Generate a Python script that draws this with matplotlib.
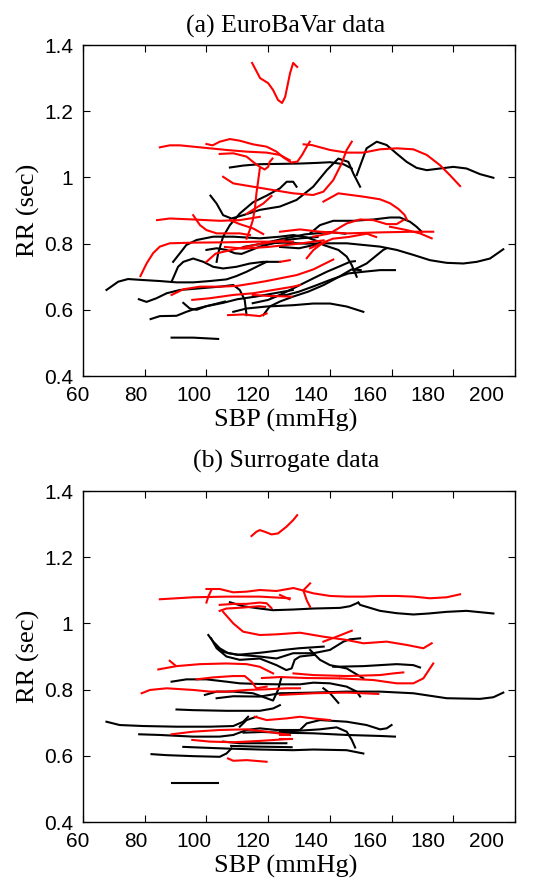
import matplotlib
matplotlib.use('Agg')
import matplotlib.pyplot as plt
import matplotlib.transforms as mtransforms

# SBP (mmHg) / RR (sec) trajectories
euro_red = [
    [(114.8,1.346),(117.4,1.300),(120.0,1.285),(121.6,1.264),(123.2,1.234),(124.5,1.225),(125.5,1.243),(127.1,1.315),(128.1,1.346),(129.4,1.334)],
    [(84.9,1.091),(88.1,1.097),(91.4,1.097),(97.9,1.091),(106.5,1.083),(113,1.078),(119.5,1.075),(123.8,1.068),(127,1.052)],
    [(100,1.101),(102,1.097),(104.3,1.108),(107.6,1.116),(110.8,1.111),(115.1,1.1),(119.5,1.093),(122.7,1.078),(125,1.06),(127.5,1.045),(129.5,1.048),(131,1.068),(132.5,1.093),(133.5,1.108)],
    [(131.5,1.1),(134.1,1.098),(140.05,1.083),(145.45,1.075),(150.85,1.075),(156.25,1.085),(161.65,1.088),(167.05,1.085),(171.4,1.068),(175.7,1.037),(178.9,1.007),(182.2,0.974)],
    [(104.3,1.071),(108.7,1.073),(113,1.063),(115.1,1.047),(117.3,1.032),(118.9,1.024),(120,1.032),(120.5,1.047),(121.4,1.057)],
    [(117.3,1.027),(116.8,0.992),(116.2,0.952),(115.7,0.905),(115,0.87),(114,0.84),(113,0.815)],
    [(105.4,1.002),(108.7,0.982),(115.1,0.972),(121.6,0.962),(128.1,0.952),(134.6,0.947),(137.9,0.957),(141.1,0.992),(143.8,1.042),(145.45,1.083),(147.1,1.108)],
    [(137.9,0.927),(142.75,0.952),(150.85,0.942),(156.25,0.934),(159.5,0.922),(162.2,0.905),(164.2,0.887),(165,0.872)],
    [(113,0.89),(115.7,0.906),(118.4,0.921),(121.1,0.944)],
    [(84.0,0.871),(88.1,0.876),(95.7,0.873),(104.3,0.869),(110.8,0.871),(117.3,0.881)],
    [(95.7,0.886),(97.9,0.856),(100,0.841),(103.3,0.831),(106.5,0.831),(110.8,0.831),(114.1,0.826)],
    [(107.6,0.871),(110.8,0.859),(115.1,0.846),(118.4,0.829)],
    [(78.6,0.702),(80.6,0.74),(82.7,0.771),(84.9,0.791),(88.1,0.801),(95.7,0.803),(106.5,0.804),(117.3,0.806),(128.1,0.806)],
    [(88.7,0.645),(92.5,0.662),(97.9,0.67),(104.3,0.67),(109.7,0.672),(115.1,0.68),(119.5,0.687),(123.8,0.695),(129.25,0.705),(134.6,0.722),(141.1,0.752)],
    [(95.4,0.63),(101.1,0.635),(108.7,0.645),(115.1,0.65),(121.6,0.66),(128.1,0.67),(130.3,0.675)],
    [(107,0.584),(111.9,0.586),(117.3,0.581),(119.5,0.589)],
    [(115,0.645),(120,0.642),(127.6,0.64)],
    [(123.85,0.836),(130.3,0.843),(136.8,0.836),(145.45,0.831),(156.25,0.834),(167.05,0.836),(173.5,0.836)],
    [(134.6,0.821),(140,0.831),(145.45,0.861),(149.8,0.873),(154.1,0.871),(158.4,0.859),(161.65,0.859),(163.8,0.871)],
    [(159.5,0.851),(164.9,0.841),(169.2,0.831),(173,0.816)],
    [(132.5,0.756),(134.6,0.78),(136.8,0.796),(139,0.806)],
    [(100,0.745),(103,0.77),(110,0.785),(118,0.80),(125,0.81)],
    [(133.6,0.786),(137,0.8),(141,0.815),(146,0.82),(152,0.83),(155,0.82)],
    [(123.85,0.745),(127,0.75)],
    [(106,0.79),(112,0.785),(120,0.79),(130,0.8),(138,0.81)],
]

euro_black = [
    [(107.6,1.030),(112,1.036),(117.3,1.04),(124,1.041),(130.3,1.042),(136,1.044),(140.05,1.046),(144.4,1.04),(147.1,1.027)],
    [(101.3,0.945),(103.3,0.921),(105.4,0.886),(108.1,0.876),(111.9,0.886),(117.3,0.902),(123.8,0.912),(129.2,0.932),(134.6,0.972),(139,1.022),(142.75,1.057),(146,1.047),(147.6,1.012),(149.8,0.972)],
    [(148.7,1.007),(151.9,1.088),(155.2,1.108),(158.4,1.098),(161.65,1.072),(164.9,1.047),(168.1,1.029),(171.4,1.022),(175.7,1.027),(180,1.032),(184.3,1.027),(188.65,1.01),(193,0.999)],
    [(103.3,0.745),(103.8,0.771),(105.4,0.821),(107.6,0.856),(110.8,0.891),(115.1,0.925),(119.5,0.945),(123.8,0.967),(126,0.987),(128.1,0.987),(129.2,0.972)],
    [(133.6,0.831),(136.8,0.856),(141.1,0.869),(147.6,0.869),(154.1,0.873),(159.5,0.879),(162.7,0.879),(166,0.866),(168.1,0.851),(169.75,0.836)],
    [(67.6,0.66),(71.4,0.685),(74.6,0.693),(79.5,0.69),(84.9,0.687),(90.3,0.683),(95.7,0.683),(101.1,0.687),(106.5,0.692),(109.7,0.702),(113,0.715),(117.3,0.735),(119.5,0.745)],
    [(88.7,0.685),(90.8,0.73),(92.5,0.745),(95.7,0.755),(99,0.745),(102.2,0.73),(105.4,0.725),(109.7,0.73),(114.1,0.74),(118.4,0.745),(123.8,0.745)],
    [(78.1,0.632),(80.6,0.624),(83.8,0.635),(87.1,0.65),(91.4,0.66),(97.9,0.665),(104.3,0.67),(108.7,0.675),(110.8,0.66),(112.4,0.63),(113,0.584)],
    [(81.9,0.572),(84.9,0.581),(90.3,0.582),(93.5,0.594),(95.7,0.601),(100,0.611),(105.4,0.621),(110,0.632),(116,0.64),(122,0.65),(128,0.66)],
    [(88.7,0.516),(95.7,0.516),(103.8,0.512)],
    [(92.5,0.621),(94.6,0.604),(96.8,0.6),(100,0.611),(106,0.625)],
    [(108.7,0.594),(113,0.604),(119.5,0.61),(128.1,0.614),(134.6,0.619),(140.05,0.619),(145.45,0.61),(150.85,0.594)],
    [(118.4,0.584),(120.5,0.61),(123.8,0.625),(128.1,0.64),(133,0.655),(138,0.675),(143,0.7),(147,0.722),(150,0.72)],
    [(115,0.62),(120,0.63),(123.85,0.645),(127.1,0.66),(130.3,0.675),(134.6,0.695),(139,0.715),(143.3,0.732),(146.5,0.745),(148.1,0.747)],
    [(121,0.64),(126,0.645),(130,0.655),(135,0.672),(140,0.69),(146,0.71),(150.85,0.715),(156.25,0.72),(161.1,0.72)],
    [(137.9,0.796),(142.75,0.781),(145.45,0.761),(147.1,0.735),(148.7,0.70)],
    [(147.6,0.72),(151.9,0.74),(155.2,0.765),(157.3,0.781),(158.4,0.786)],
    [(118,0.80),(125,0.803),(132,0.80),(140.05,0.801),(145.45,0.801),(150.85,0.796),(156.25,0.791),(161.65,0.781),(167.05,0.766),(172.45,0.75),(177.85,0.742),(183.25,0.740),(187.6,0.745),(191.9,0.755),(196.2,0.783)],
    [(89.2,0.745),(91.4,0.771),(93.5,0.796),(96.8,0.811),(102.2,0.821),(108.7,0.821),(117.3,0.816),(123.85,0.821),(128.2,0.826),(132.5,0.819),(137.9,0.801)],
    [(100,0.781),(103.3,0.786),(106.5,0.781),(109.2,0.771),(111.4,0.769),(114.1,0.779),(117.3,0.791),(121.6,0.801),(125.9,0.811),(130.3,0.816),(136,0.82)],
    [(123.85,0.79),(130,0.786),(136.8,0.8)],
    [(112,0.79),(118,0.8),(125,0.815),(132,0.828),(140,0.835),(145,0.83)],
]

surr_red = [
    [(114.6,1.264),(116.2,1.277),(117.3,1.282),(118.9,1.277),(121.1,1.269),(123.2,1.272),(125.9,1.292),(128.1,1.312),(129.4,1.327)],
    [(84.9,1.073),(95.7,1.079),(106.5,1.081),(117.3,1.081),(127,1.076)],
    [(100,1.104),(104.3,1.104),(108.7,1.094),(113,1.096),(117.3,1.101),(122.7,1.098),(128.2,1.107),(131.1,1.1),(134.6,1.091),(140.05,1.083),(145.45,1.081),(150.85,1.081),(156.25,1.083),(161.65,1.083),(167.05,1.081),(172.45,1.076),(177.85,1.079),(182.2,1.088)],
    [(101.6,1.101),(100.6,1.081),(100,1.063)],
    [(133.6,1.121),(131.4,1.1),(132.5,1.07),(133.6,1.05)],
    [(123.85,1.086),(126.9,1.073)],
    [(104.3,1.056),(108.7,1.059),(113,1.059),(117.3,1.063),(119.5,1.061),(121.1,1.046)],
    [(104.3,1.038),(106.5,1.045),(112,1.048),(117,1.052),(119,1.05)],
    [(105.4,1.035),(108.7,1.0),(111.9,0.975),(117.3,0.965),(122.7,0.967),(130.3,0.972),(137.9,0.96),(145.45,0.95),(150.85,0.94),(158.4,0.945),(164.9,0.935),(170.3,0.925),(173,0.94)],
    [(137.9,0.945),(142.2,0.96),(147.1,0.978)],
    [(84.4,0.861),(90.3,0.871),(97.9,0.877),(106.5,0.879),(113,0.877),(117.3,0.869),(121.6,0.849)],
    [(88.1,0.887),(89.8,0.874)],
    [(96.8,0.831),(102.2,0.837),(108.7,0.841),(112.4,0.841),(114.6,0.824),(116.2,0.804),(119.5,0.809)],
    [(79,0.789),(81.7,0.799),(87.1,0.804),(95.7,0.799),(101.1,0.794),(106.5,0.794),(113,0.799),(119.5,0.801),(125.9,0.804),(130.3,0.804)],
    [(88.7,0.665),(95.7,0.673),(104.3,0.678),(113,0.68),(119.5,0.673),(127,0.663)],
    [(115.7,0.718),(119.5,0.708),(125.9,0.713),(130.3,0.718),(134.65,0.713),(140.05,0.708)],
    [(95.4,0.648),(101.1,0.643),(108.7,0.641),(117.3,0.645),(127,0.651)],
    [(107,0.592),(108.7,0.585),(113,0.587),(119.5,0.582)],
    [(128.2,0.849),(134.65,0.844),(145.45,0.841),(156.25,0.844),(160.6,0.849),(163.8,0.852)],
    [(143.3,0.834),(154.1,0.829),(161.65,0.819),(167.05,0.819),(170.3,0.834),(173.5,0.879)],
    [(118,0.835),(123.85,0.838),(132.5,0.835),(143,0.834)],
    [(123.85,0.784),(134.65,0.789),(145.45,0.791),(155.7,0.787)],
    [(123.85,0.663),(127,0.663)],
    [(123.85,0.65),(127.6,0.65)],
]

surr_black = [
    [(107.6,1.064),(111.9,1.052),(117.3,1.045),(121.6,1.04),(128.1,1.042),(134.6,1.045),(143.3,1.047),(146.5,1.052),(149.2,1.063)],
    [(149.2,1.063),(149.8,1.056),(156.25,1.038),(161.6,1.031),(167.05,1.027),(172,1.03),(177.85,1.035),(184.3,1.038),(193,1.03)],
    [(100.6,0.965),(102.2,0.945),(104.3,0.925),(107,0.91),(110.8,0.905),(117.3,0.9),(122.7,0.894),(128.1,0.91),(134.65,0.91),(140.05,0.92),(144.4,0.945),(146.5,0.952),(149.8,0.955)],
    [(101.5,0.955),(103.3,0.925),(106.5,0.9),(110.8,0.89),(117.3,0.894),(122.7,0.874),(125.9,0.859),(127.6,0.864),(128.6,0.89),(130.3,0.9),(135,0.905)],
    [(133.6,0.92),(136.8,0.89),(140.05,0.874),(145.45,0.864),(150.85,0.834)],
    [(141.1,0.869),(150.85,0.871),(161.65,0.877),(167.05,0.874),(169.2,0.867)],
    [(88.7,0.824),(93.5,0.831),(100,0.831),(106.5,0.824),(110.8,0.819),(117.3,0.817),(122.7,0.816),(130.3,0.816),(134.65,0.821),(140.05,0.819),(145.45,0.809),(148.7,0.794),(149.8,0.779)],
    [(99.5,0.784),(103.3,0.794),(108.7,0.794),(115.1,0.789),(119.5,0.774),(121.6,0.767),(123.2,0.799),(124.3,0.837)],
    [(103.3,0.774),(108.7,0.78),(117.3,0.779),(123.85,0.789),(134.65,0.791),(145.45,0.794),(156.25,0.794),(167.05,0.789),(177.85,0.774),(188.65,0.772),(193,0.777),(196.2,0.791)],
    [(137.9,0.804),(140.05,0.789),(142.75,0.76)],
    [(90.3,0.74),(95.7,0.738),(106.5,0.736),(117.3,0.736),(121.6,0.743),(123.8,0.753)],
    [(67.6,0.703),(71.9,0.693),(79.5,0.69),(90.3,0.688),(101.1,0.688),(108.7,0.69),(111.9,0.703),(113.5,0.718)],
    [(78.2,0.665),(84.9,0.663),(95.7,0.658),(104.3,0.658),(108.7,0.663),(113,0.678),(117.3,0.683),(122.7,0.678),(130.3,0.678),(132.5,0.698),(136.8,0.708),(145.45,0.703),(151.9,0.693),(156.25,0.68),(158.4,0.683),(160,0.693)],
    [(110.8,0.688),(113,0.708),(116.2,0.718)],
    [(123.85,0.673),(130.3,0.676),(136.8,0.68),(142.2,0.686),(145.45,0.673),(147.1,0.648),(148.2,0.625)],
    [(112,0.67),(118,0.672),(123.85,0.67),(134.65,0.668),(145.45,0.663),(156.25,0.66),(161.1,0.658)],
    [(92.5,0.627),(97.9,0.625),(106.5,0.622),(117.3,0.619),(128.1,0.617),(134.65,0.619),(145.45,0.617),(150.85,0.607)],
    [(82.2,0.605),(87.1,0.602),(95.7,0.599),(104.3,0.597),(106.5,0.607),(108.1,0.622)],
    [(105.4,0.643),(110.8,0.638),(117.3,0.638),(125.9,0.638)],
    [(88.7,0.519),(103.8,0.519)],
    [(108,0.63),(115,0.628),(122,0.627),(127.6,0.626)],
    [(102.5,0.94),(105,0.915),(110,0.905),(118,0.912),(125,0.92),(130,0.925),(138,0.93)],
]

xticks = [60, 80, 100, 120, 140, 160, 180, 200]
yticks = [0.4, 0.6, 0.8, 1.0, 1.2, 1.4]
ytick_labels = ['0.4', '0.6', '0.8', '1', '1.2', '1.4']

serif = 'Liberation Serif'
sans = 'Liberation Sans'

fig = plt.figure(figsize=(5.44, 8.80), dpi=100)
ax1 = fig.add_axes([0.1526, 0.5727, 0.7941, 0.3761])
ax2 = fig.add_axes([0.1526, 0.0659, 0.7941, 0.3761])


def draw(ax, black, red, title, tpad):
    for c in black:
        ax.plot([p[0] for p in c], [p[1] for p in c], color='k', lw=1.5)
    for c in red:
        ax.plot([p[0] for p in c], [p[1] for p in c], color='#ff0000', lw=1.5)
    ax.set_xlim(60, 200)
    ax.set_ylim(0.4, 1.4)
    ax.set_xticks(xticks)
    ax.set_xticklabels([str(t) for t in xticks], fontfamily=sans, fontsize=15)
    ax.set_yticks(yticks)
    ax.set_yticklabels(ytick_labels, fontfamily=sans, fontsize=15)
    ax.tick_params(direction='in', top=True, right=True, length=5, width=0.8, pad=7)
    for s in ax.spines.values():
        s.set_linewidth(1.0)
    # text layer in the original sits slightly compressed to the left
    for t, lab in zip(xticks, ax.get_xticklabels()):
        dx = -(4 + (t - 60) / 140 * 16.5) / 72.0
        lab.set_transform(lab.get_transform() +
                          mtransforms.ScaledTranslation(dx, 0, fig.dpi_scale_trans))
    ax.set_title(title, fontfamily=serif, fontsize=18.5, x=0.47, pad=tpad)
    ax.set_xlabel('SBP (mmHg)', fontfamily=serif, fontsize=19)
    ax.xaxis.set_label_coords(0.47, -0.098)
    ax.set_ylabel('RR (sec)', fontfamily=serif, fontsize=19)
    ax.yaxis.set_label_coords(-0.1, 0.5)


draw(ax1, euro_black, euro_red, '(a) EuroBaVar data', 9)
draw(ax2, surr_black, surr_red, '(b) Surrogate data', 17)

fig.savefig('out.png', dpi=100)
